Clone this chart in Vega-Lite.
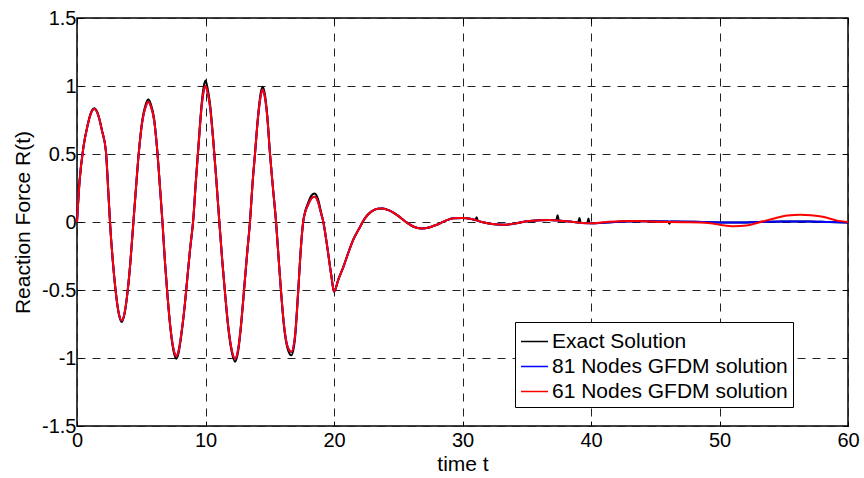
{
  "$schema": "https://vega.github.io/schema/vega-lite/v6.json",
  "width": 771,
  "height": 408,
  "autosize": {"type": "none"},
  "padding": {"left": 77, "top": 18, "right": 16, "bottom": 52},
  "background": "white",
  "config": {
    "view": {"stroke": "black", "strokeWidth": 1.5},
    "axis": {
      "labelFont": "Liberation Sans", "titleFont": "Liberation Sans",
      "labelFontSize": 20, "titleFontSize": 21, "labelColor": "black", "titleColor": "black",
      "titleFontWeight": "normal", "domain": false, "tickColor": "black", "tickSize": -5, "tickWidth": 1,
      "grid": true, "gridColor": "#222222", "gridDash": [8, 7], "gridWidth": 1, "gridOpacity": 1
    },
    "legend": {
      "orient": "none", "legendX": 438, "legendY": 304, "strokeColor": "black", "padding": 5,
      "fillColor": "white", "symbolType": "stroke", "symbolSize": 729, "symbolStrokeWidth": 1.5,
      "labelFont": "Liberation Sans", "labelFontSize": 21, "labelColor": "black", "labelOffset": 3,
      "rowPadding": 0, "title": null, "labelLimit": 400
    }
  },
  "data": {"values": [
    {"s":"Exact Solution","t":0,"r":0},{"s":"Exact Solution","t":0.2,"r":0.3},{"s":"Exact Solution","t":0.5,"r":0.55},{"s":"Exact Solution","t":0.8,"r":0.7},{"s":"Exact Solution","t":1.05,"r":0.795},{"s":"Exact Solution","t":1.35,"r":0.836},{"s":"Exact Solution","t":1.65,"r":0.79},{"s":"Exact Solution","t":1.95,"r":0.67},{"s":"Exact Solution","t":2.25,"r":0.52},{"s":"Exact Solution","t":2.45,"r":0.2},{"s":"Exact Solution","t":2.6,"r":-0.05},{"s":"Exact Solution","t":2.8,"r":-0.3},{"s":"Exact Solution","t":3.0,"r":-0.5},{"s":"Exact Solution","t":3.25,"r":-0.675},{"s":"Exact Solution","t":3.48,"r":-0.735},{"s":"Exact Solution","t":3.7,"r":-0.675},{"s":"Exact Solution","t":3.95,"r":-0.5},{"s":"Exact Solution","t":4.15,"r":-0.3},{"s":"Exact Solution","t":4.35,"r":-0.05},{"s":"Exact Solution","t":4.55,"r":0.2},{"s":"Exact Solution","t":4.8,"r":0.5},{"s":"Exact Solution","t":5.1,"r":0.76},{"s":"Exact Solution","t":5.35,"r":0.865},{"s":"Exact Solution","t":5.55,"r":0.9},{"s":"Exact Solution","t":5.75,"r":0.865},{"s":"Exact Solution","t":6.0,"r":0.76},{"s":"Exact Solution","t":6.25,"r":0.52},{"s":"Exact Solution","t":6.5,"r":0.2},{"s":"Exact Solution","t":6.65,"r":0.0},{"s":"Exact Solution","t":6.85,"r":-0.3},{"s":"Exact Solution","t":7.05,"r":-0.55},{"s":"Exact Solution","t":7.3,"r":-0.81},{"s":"Exact Solution","t":7.55,"r":-0.965},{"s":"Exact Solution","t":7.72,"r":-1.005},{"s":"Exact Solution","t":7.9,"r":-0.965},{"s":"Exact Solution","t":8.15,"r":-0.81},{"s":"Exact Solution","t":8.4,"r":-0.6},{"s":"Exact Solution","t":8.55,"r":-0.45},{"s":"Exact Solution","t":8.8,"r":-0.2},{"s":"Exact Solution","t":9.05,"r":0.02},{"s":"Exact Solution","t":9.25,"r":0.3},{"s":"Exact Solution","t":9.45,"r":0.56},{"s":"Exact Solution","t":9.7,"r":0.87},{"s":"Exact Solution","t":9.85,"r":0.99},{"s":"Exact Solution","t":10.0,"r":1.04},{"s":"Exact Solution","t":10.15,"r":0.99},{"s":"Exact Solution","t":10.35,"r":0.87},{"s":"Exact Solution","t":10.6,"r":0.61},{"s":"Exact Solution","t":10.85,"r":0.3},{"s":"Exact Solution","t":11.07,"r":0.01},{"s":"Exact Solution","t":11.3,"r":-0.28},{"s":"Exact Solution","t":11.5,"r":-0.5},{"s":"Exact Solution","t":11.75,"r":-0.76},{"s":"Exact Solution","t":12.0,"r":-0.935},{"s":"Exact Solution","t":12.3,"r":-1.027},{"s":"Exact Solution","t":12.55,"r":-0.945},{"s":"Exact Solution","t":12.8,"r":-0.73},{"s":"Exact Solution","t":13.0,"r":-0.5},{"s":"Exact Solution","t":13.25,"r":-0.22},{"s":"Exact Solution","t":13.46,"r":0.0},{"s":"Exact Solution","t":13.65,"r":0.27},{"s":"Exact Solution","t":13.85,"r":0.5},{"s":"Exact Solution","t":14.1,"r":0.79},{"s":"Exact Solution","t":14.3,"r":0.95},{"s":"Exact Solution","t":14.45,"r":0.995},{"s":"Exact Solution","t":14.6,"r":0.95},{"s":"Exact Solution","t":14.8,"r":0.79},{"s":"Exact Solution","t":15.02,"r":0.5},{"s":"Exact Solution","t":15.25,"r":0.25},{"s":"Exact Solution","t":15.49,"r":0.0},{"s":"Exact Solution","t":15.7,"r":-0.28},{"s":"Exact Solution","t":15.87,"r":-0.5},{"s":"Exact Solution","t":16.1,"r":-0.76},{"s":"Exact Solution","t":16.4,"r":-0.935},{"s":"Exact Solution","t":16.68,"r":-0.98},{"s":"Exact Solution","t":16.95,"r":-0.87},{"s":"Exact Solution","t":17.22,"r":-0.5},{"s":"Exact Solution","t":17.4,"r":-0.22},{"s":"Exact Solution","t":17.6,"r":0.0},{"s":"Exact Solution","t":17.75,"r":0.075},{"s":"Exact Solution","t":18.0,"r":0.145},{"s":"Exact Solution","t":18.25,"r":0.195},{"s":"Exact Solution","t":18.5,"r":0.21},{"s":"Exact Solution","t":18.75,"r":0.17},{"s":"Exact Solution","t":19.0,"r":0.07},{"s":"Exact Solution","t":19.17,"r":0.0},{"s":"Exact Solution","t":19.5,"r":-0.2},{"s":"Exact Solution","t":19.8,"r":-0.4},{"s":"Exact Solution","t":20.0,"r":-0.515},{"s":"Exact Solution","t":20.35,"r":-0.42},{"s":"Exact Solution","t":20.73,"r":-0.33},{"s":"Exact Solution","t":21.1,"r":-0.23},{"s":"Exact Solution","t":21.5,"r":-0.13},{"s":"Exact Solution","t":22.0,"r":-0.04},{"s":"Exact Solution","t":22.4,"r":0.027},{"s":"Exact Solution","t":22.9,"r":0.076},{"s":"Exact Solution","t":23.4,"r":0.098},{"s":"Exact Solution","t":23.8,"r":0.1},{"s":"Exact Solution","t":24.3,"r":0.085},{"s":"Exact Solution","t":25.0,"r":0.045},{"s":"Exact Solution","t":25.6,"r":0.0},{"s":"Exact Solution","t":26.2,"r":-0.035},{"s":"Exact Solution","t":26.8,"r":-0.047},{"s":"Exact Solution","t":27.4,"r":-0.04},{"s":"Exact Solution","t":28.0,"r":-0.02},{"s":"Exact Solution","t":28.7,"r":0.01},{"s":"Exact Solution","t":29.3,"r":0.027},{"s":"Exact Solution","t":30.0,"r":0.03},{"s":"Exact Solution","t":30.7,"r":0.022},{"s":"Exact Solution","t":31.0,"r":0.012},{"s":"Exact Solution","t":31.1,"r":0.035},{"s":"Exact Solution","t":31.2,"r":0.008},{"s":"Exact Solution","t":31.5,"r":0.0},{"s":"Exact Solution","t":32.3,"r":-0.015},{"s":"Exact Solution","t":33.2,"r":-0.02},{"s":"Exact Solution","t":34.0,"r":-0.012},{"s":"Exact Solution","t":35.0,"r":0.005},{"s":"Exact Solution","t":36.0,"r":0.013},{"s":"Exact Solution","t":36.8,"r":0.015},{"s":"Exact Solution","t":37.3,"r":0.012},{"s":"Exact Solution","t":37.4,"r":0.05},{"s":"Exact Solution","t":37.5,"r":0.011},{"s":"Exact Solution","t":38.5,"r":0.002},{"s":"Exact Solution","t":39.0,"r":-0.004},{"s":"Exact Solution","t":39.1,"r":0.03},{"s":"Exact Solution","t":39.2,"r":-0.005},{"s":"Exact Solution","t":39.7,"r":-0.008},{"s":"Exact Solution","t":39.8,"r":0.025},{"s":"Exact Solution","t":39.9,"r":-0.009},{"s":"Exact Solution","t":40.0,"r":-0.01},{"s":"Exact Solution","t":41.0,"r":-0.005},{"s":"Exact Solution","t":42.5,"r":0.003},{"s":"Exact Solution","t":44.0,"r":0.006},{"s":"Exact Solution","t":46.0,"r":0.004},{"s":"Exact Solution","t":46.1,"r":-0.012},{"s":"Exact Solution","t":46.2,"r":0.004},{"s":"Exact Solution","t":48.0,"r":0.001},{"s":"Exact Solution","t":50.0,"r":-0.003},{"s":"Exact Solution","t":51.5,"r":-0.004},{"s":"Exact Solution","t":53.0,"r":0.0},{"s":"Exact Solution","t":55.0,"r":0.004},{"s":"Exact Solution","t":57.0,"r":0.004},{"s":"Exact Solution","t":58.5,"r":0.0},{"s":"Exact Solution","t":60.0,"r":-0.003},

    {"s":"81 Nodes GFDM solution","t":0,"r":0},{"s":"81 Nodes GFDM solution","t":0.2,"r":0.3},{"s":"81 Nodes GFDM solution","t":0.5,"r":0.55},{"s":"81 Nodes GFDM solution","t":0.8,"r":0.7},{"s":"81 Nodes GFDM solution","t":1.05,"r":0.79},{"s":"81 Nodes GFDM solution","t":1.35,"r":0.83},{"s":"81 Nodes GFDM solution","t":1.65,"r":0.785},{"s":"81 Nodes GFDM solution","t":1.95,"r":0.67},{"s":"81 Nodes GFDM solution","t":2.25,"r":0.52},{"s":"81 Nodes GFDM solution","t":2.45,"r":0.2},{"s":"81 Nodes GFDM solution","t":2.6,"r":-0.05},{"s":"81 Nodes GFDM solution","t":2.8,"r":-0.3},{"s":"81 Nodes GFDM solution","t":3.0,"r":-0.5},{"s":"81 Nodes GFDM solution","t":3.25,"r":-0.67},{"s":"81 Nodes GFDM solution","t":3.48,"r":-0.725},{"s":"81 Nodes GFDM solution","t":3.7,"r":-0.67},{"s":"81 Nodes GFDM solution","t":3.95,"r":-0.5},{"s":"81 Nodes GFDM solution","t":4.15,"r":-0.3},{"s":"81 Nodes GFDM solution","t":4.35,"r":-0.05},{"s":"81 Nodes GFDM solution","t":4.55,"r":0.2},{"s":"81 Nodes GFDM solution","t":4.8,"r":0.5},{"s":"81 Nodes GFDM solution","t":5.1,"r":0.75},{"s":"81 Nodes GFDM solution","t":5.35,"r":0.85},{"s":"81 Nodes GFDM solution","t":5.55,"r":0.885},{"s":"81 Nodes GFDM solution","t":5.75,"r":0.85},{"s":"81 Nodes GFDM solution","t":6.0,"r":0.75},{"s":"81 Nodes GFDM solution","t":6.25,"r":0.52},{"s":"81 Nodes GFDM solution","t":6.5,"r":0.2},{"s":"81 Nodes GFDM solution","t":6.65,"r":0.0},{"s":"81 Nodes GFDM solution","t":6.85,"r":-0.3},{"s":"81 Nodes GFDM solution","t":7.05,"r":-0.55},{"s":"81 Nodes GFDM solution","t":7.3,"r":-0.8},{"s":"81 Nodes GFDM solution","t":7.55,"r":-0.95},{"s":"81 Nodes GFDM solution","t":7.72,"r":-0.985},{"s":"81 Nodes GFDM solution","t":7.9,"r":-0.95},{"s":"81 Nodes GFDM solution","t":8.15,"r":-0.8},{"s":"81 Nodes GFDM solution","t":8.4,"r":-0.6},{"s":"81 Nodes GFDM solution","t":8.55,"r":-0.45},{"s":"81 Nodes GFDM solution","t":8.8,"r":-0.2},{"s":"81 Nodes GFDM solution","t":9.05,"r":0.02},{"s":"81 Nodes GFDM solution","t":9.25,"r":0.3},{"s":"81 Nodes GFDM solution","t":9.45,"r":0.55},{"s":"81 Nodes GFDM solution","t":9.7,"r":0.85},{"s":"81 Nodes GFDM solution","t":9.85,"r":0.96},{"s":"81 Nodes GFDM solution","t":10.0,"r":1.0},{"s":"81 Nodes GFDM solution","t":10.15,"r":0.96},{"s":"81 Nodes GFDM solution","t":10.35,"r":0.85},{"s":"81 Nodes GFDM solution","t":10.6,"r":0.6},{"s":"81 Nodes GFDM solution","t":10.85,"r":0.3},{"s":"81 Nodes GFDM solution","t":11.07,"r":0.01},{"s":"81 Nodes GFDM solution","t":11.3,"r":-0.28},{"s":"81 Nodes GFDM solution","t":11.5,"r":-0.5},{"s":"81 Nodes GFDM solution","t":11.75,"r":-0.75},{"s":"81 Nodes GFDM solution","t":12.0,"r":-0.92},{"s":"81 Nodes GFDM solution","t":12.3,"r":-1.005},{"s":"81 Nodes GFDM solution","t":12.55,"r":-0.93},{"s":"81 Nodes GFDM solution","t":12.8,"r":-0.72},{"s":"81 Nodes GFDM solution","t":13.0,"r":-0.5},{"s":"81 Nodes GFDM solution","t":13.25,"r":-0.22},{"s":"81 Nodes GFDM solution","t":13.46,"r":0.0},{"s":"81 Nodes GFDM solution","t":13.65,"r":0.27},{"s":"81 Nodes GFDM solution","t":13.85,"r":0.5},{"s":"81 Nodes GFDM solution","t":14.1,"r":0.78},{"s":"81 Nodes GFDM solution","t":14.3,"r":0.93},{"s":"81 Nodes GFDM solution","t":14.45,"r":0.975},{"s":"81 Nodes GFDM solution","t":14.6,"r":0.93},{"s":"81 Nodes GFDM solution","t":14.8,"r":0.78},{"s":"81 Nodes GFDM solution","t":15.02,"r":0.5},{"s":"81 Nodes GFDM solution","t":15.25,"r":0.25},{"s":"81 Nodes GFDM solution","t":15.49,"r":0.0},{"s":"81 Nodes GFDM solution","t":15.7,"r":-0.28},{"s":"81 Nodes GFDM solution","t":15.87,"r":-0.5},{"s":"81 Nodes GFDM solution","t":16.1,"r":-0.75},{"s":"81 Nodes GFDM solution","t":16.4,"r":-0.92},{"s":"81 Nodes GFDM solution","t":16.68,"r":-0.955},{"s":"81 Nodes GFDM solution","t":16.95,"r":-0.85},{"s":"81 Nodes GFDM solution","t":17.22,"r":-0.5},{"s":"81 Nodes GFDM solution","t":17.4,"r":-0.22},{"s":"81 Nodes GFDM solution","t":17.6,"r":0.0},{"s":"81 Nodes GFDM solution","t":17.75,"r":0.07},{"s":"81 Nodes GFDM solution","t":18.0,"r":0.13},{"s":"81 Nodes GFDM solution","t":18.25,"r":0.175},{"s":"81 Nodes GFDM solution","t":18.5,"r":0.185},{"s":"81 Nodes GFDM solution","t":18.75,"r":0.15},{"s":"81 Nodes GFDM solution","t":19.0,"r":0.06},{"s":"81 Nodes GFDM solution","t":19.17,"r":0.0},{"s":"81 Nodes GFDM solution","t":19.5,"r":-0.2},{"s":"81 Nodes GFDM solution","t":19.8,"r":-0.4},{"s":"81 Nodes GFDM solution","t":20.0,"r":-0.51},{"s":"81 Nodes GFDM solution","t":20.35,"r":-0.42},{"s":"81 Nodes GFDM solution","t":20.73,"r":-0.33},{"s":"81 Nodes GFDM solution","t":21.1,"r":-0.23},{"s":"81 Nodes GFDM solution","t":21.5,"r":-0.13},{"s":"81 Nodes GFDM solution","t":22.0,"r":-0.04},{"s":"81 Nodes GFDM solution","t":22.4,"r":0.027},{"s":"81 Nodes GFDM solution","t":22.9,"r":0.076},{"s":"81 Nodes GFDM solution","t":23.4,"r":0.098},{"s":"81 Nodes GFDM solution","t":23.8,"r":0.1},{"s":"81 Nodes GFDM solution","t":24.3,"r":0.085},{"s":"81 Nodes GFDM solution","t":25.0,"r":0.045},{"s":"81 Nodes GFDM solution","t":25.6,"r":0.0},{"s":"81 Nodes GFDM solution","t":26.2,"r":-0.035},{"s":"81 Nodes GFDM solution","t":26.8,"r":-0.047},{"s":"81 Nodes GFDM solution","t":27.4,"r":-0.04},{"s":"81 Nodes GFDM solution","t":28.0,"r":-0.02},{"s":"81 Nodes GFDM solution","t":28.7,"r":0.01},{"s":"81 Nodes GFDM solution","t":29.3,"r":0.027},{"s":"81 Nodes GFDM solution","t":30.0,"r":0.03},{"s":"81 Nodes GFDM solution","t":30.7,"r":0.022},{"s":"81 Nodes GFDM solution","t":31.5,"r":0.0},{"s":"81 Nodes GFDM solution","t":32.3,"r":-0.015},{"s":"81 Nodes GFDM solution","t":33.2,"r":-0.02},{"s":"81 Nodes GFDM solution","t":34.0,"r":-0.012},{"s":"81 Nodes GFDM solution","t":35.0,"r":0.005},{"s":"81 Nodes GFDM solution","t":36.0,"r":0.013},{"s":"81 Nodes GFDM solution","t":36.8,"r":0.015},{"s":"81 Nodes GFDM solution","t":37.6,"r":0.01},{"s":"81 Nodes GFDM solution","t":38.5,"r":0.002},{"s":"81 Nodes GFDM solution","t":39.3,"r":-0.008},{"s":"81 Nodes GFDM solution","t":40.0,"r":-0.01},{"s":"81 Nodes GFDM solution","t":41.0,"r":-0.005},{"s":"81 Nodes GFDM solution","t":42.5,"r":0.003},{"s":"81 Nodes GFDM solution","t":44.0,"r":0.006},{"s":"81 Nodes GFDM solution","t":46.0,"r":0.004},{"s":"81 Nodes GFDM solution","t":48.0,"r":0.001},{"s":"81 Nodes GFDM solution","t":50.0,"r":-0.003},{"s":"81 Nodes GFDM solution","t":51.5,"r":-0.004},{"s":"81 Nodes GFDM solution","t":53.0,"r":0.0},{"s":"81 Nodes GFDM solution","t":55.0,"r":0.004},{"s":"81 Nodes GFDM solution","t":57.0,"r":0.004},{"s":"81 Nodes GFDM solution","t":58.5,"r":0.0},{"s":"81 Nodes GFDM solution","t":60.0,"r":-0.003},

    {"s":"61 Nodes GFDM solution","t":0,"r":0},{"s":"61 Nodes GFDM solution","t":0.2,"r":0.3},{"s":"61 Nodes GFDM solution","t":0.5,"r":0.55},{"s":"61 Nodes GFDM solution","t":0.8,"r":0.7},{"s":"61 Nodes GFDM solution","t":1.05,"r":0.79},{"s":"61 Nodes GFDM solution","t":1.35,"r":0.83},{"s":"61 Nodes GFDM solution","t":1.65,"r":0.785},{"s":"61 Nodes GFDM solution","t":1.95,"r":0.67},{"s":"61 Nodes GFDM solution","t":2.25,"r":0.52},{"s":"61 Nodes GFDM solution","t":2.45,"r":0.2},{"s":"61 Nodes GFDM solution","t":2.6,"r":-0.05},{"s":"61 Nodes GFDM solution","t":2.8,"r":-0.3},{"s":"61 Nodes GFDM solution","t":3.0,"r":-0.5},{"s":"61 Nodes GFDM solution","t":3.25,"r":-0.67},{"s":"61 Nodes GFDM solution","t":3.48,"r":-0.725},{"s":"61 Nodes GFDM solution","t":3.7,"r":-0.67},{"s":"61 Nodes GFDM solution","t":3.95,"r":-0.5},{"s":"61 Nodes GFDM solution","t":4.15,"r":-0.3},{"s":"61 Nodes GFDM solution","t":4.35,"r":-0.05},{"s":"61 Nodes GFDM solution","t":4.55,"r":0.2},{"s":"61 Nodes GFDM solution","t":4.8,"r":0.5},{"s":"61 Nodes GFDM solution","t":5.1,"r":0.75},{"s":"61 Nodes GFDM solution","t":5.35,"r":0.85},{"s":"61 Nodes GFDM solution","t":5.55,"r":0.885},{"s":"61 Nodes GFDM solution","t":5.75,"r":0.85},{"s":"61 Nodes GFDM solution","t":6.0,"r":0.75},{"s":"61 Nodes GFDM solution","t":6.25,"r":0.52},{"s":"61 Nodes GFDM solution","t":6.5,"r":0.2},{"s":"61 Nodes GFDM solution","t":6.65,"r":0.0},{"s":"61 Nodes GFDM solution","t":6.85,"r":-0.3},{"s":"61 Nodes GFDM solution","t":7.05,"r":-0.55},{"s":"61 Nodes GFDM solution","t":7.3,"r":-0.8},{"s":"61 Nodes GFDM solution","t":7.55,"r":-0.95},{"s":"61 Nodes GFDM solution","t":7.72,"r":-0.985},{"s":"61 Nodes GFDM solution","t":7.9,"r":-0.95},{"s":"61 Nodes GFDM solution","t":8.15,"r":-0.8},{"s":"61 Nodes GFDM solution","t":8.4,"r":-0.6},{"s":"61 Nodes GFDM solution","t":8.55,"r":-0.45},{"s":"61 Nodes GFDM solution","t":8.8,"r":-0.2},{"s":"61 Nodes GFDM solution","t":9.05,"r":0.02},{"s":"61 Nodes GFDM solution","t":9.25,"r":0.3},{"s":"61 Nodes GFDM solution","t":9.45,"r":0.55},{"s":"61 Nodes GFDM solution","t":9.7,"r":0.85},{"s":"61 Nodes GFDM solution","t":9.85,"r":0.96},{"s":"61 Nodes GFDM solution","t":10.0,"r":1.0},{"s":"61 Nodes GFDM solution","t":10.15,"r":0.96},{"s":"61 Nodes GFDM solution","t":10.35,"r":0.85},{"s":"61 Nodes GFDM solution","t":10.6,"r":0.6},{"s":"61 Nodes GFDM solution","t":10.85,"r":0.3},{"s":"61 Nodes GFDM solution","t":11.07,"r":0.01},{"s":"61 Nodes GFDM solution","t":11.3,"r":-0.28},{"s":"61 Nodes GFDM solution","t":11.5,"r":-0.5},{"s":"61 Nodes GFDM solution","t":11.75,"r":-0.75},{"s":"61 Nodes GFDM solution","t":12.0,"r":-0.92},{"s":"61 Nodes GFDM solution","t":12.3,"r":-1.005},{"s":"61 Nodes GFDM solution","t":12.55,"r":-0.93},{"s":"61 Nodes GFDM solution","t":12.8,"r":-0.72},{"s":"61 Nodes GFDM solution","t":13.0,"r":-0.5},{"s":"61 Nodes GFDM solution","t":13.25,"r":-0.22},{"s":"61 Nodes GFDM solution","t":13.46,"r":0.0},{"s":"61 Nodes GFDM solution","t":13.65,"r":0.27},{"s":"61 Nodes GFDM solution","t":13.85,"r":0.5},{"s":"61 Nodes GFDM solution","t":14.1,"r":0.78},{"s":"61 Nodes GFDM solution","t":14.3,"r":0.93},{"s":"61 Nodes GFDM solution","t":14.45,"r":0.975},{"s":"61 Nodes GFDM solution","t":14.6,"r":0.93},{"s":"61 Nodes GFDM solution","t":14.8,"r":0.78},{"s":"61 Nodes GFDM solution","t":15.02,"r":0.5},{"s":"61 Nodes GFDM solution","t":15.25,"r":0.25},{"s":"61 Nodes GFDM solution","t":15.49,"r":0.0},{"s":"61 Nodes GFDM solution","t":15.7,"r":-0.28},{"s":"61 Nodes GFDM solution","t":15.87,"r":-0.5},{"s":"61 Nodes GFDM solution","t":16.1,"r":-0.75},{"s":"61 Nodes GFDM solution","t":16.4,"r":-0.92},{"s":"61 Nodes GFDM solution","t":16.68,"r":-0.955},{"s":"61 Nodes GFDM solution","t":16.95,"r":-0.85},{"s":"61 Nodes GFDM solution","t":17.22,"r":-0.5},{"s":"61 Nodes GFDM solution","t":17.4,"r":-0.22},{"s":"61 Nodes GFDM solution","t":17.6,"r":0.0},{"s":"61 Nodes GFDM solution","t":17.75,"r":0.07},{"s":"61 Nodes GFDM solution","t":18.0,"r":0.13},{"s":"61 Nodes GFDM solution","t":18.25,"r":0.175},{"s":"61 Nodes GFDM solution","t":18.5,"r":0.185},{"s":"61 Nodes GFDM solution","t":18.75,"r":0.15},{"s":"61 Nodes GFDM solution","t":19.0,"r":0.06},{"s":"61 Nodes GFDM solution","t":19.17,"r":0.0},{"s":"61 Nodes GFDM solution","t":19.5,"r":-0.2},{"s":"61 Nodes GFDM solution","t":19.8,"r":-0.4},{"s":"61 Nodes GFDM solution","t":20.0,"r":-0.51},{"s":"61 Nodes GFDM solution","t":20.35,"r":-0.42},{"s":"61 Nodes GFDM solution","t":20.73,"r":-0.33},{"s":"61 Nodes GFDM solution","t":21.1,"r":-0.23},{"s":"61 Nodes GFDM solution","t":21.5,"r":-0.13},{"s":"61 Nodes GFDM solution","t":22.0,"r":-0.04},{"s":"61 Nodes GFDM solution","t":22.4,"r":0.027},{"s":"61 Nodes GFDM solution","t":22.9,"r":0.076},{"s":"61 Nodes GFDM solution","t":23.4,"r":0.098},{"s":"61 Nodes GFDM solution","t":23.8,"r":0.1},{"s":"61 Nodes GFDM solution","t":24.3,"r":0.085},{"s":"61 Nodes GFDM solution","t":25.0,"r":0.045},{"s":"61 Nodes GFDM solution","t":25.6,"r":0.0},{"s":"61 Nodes GFDM solution","t":26.2,"r":-0.035},{"s":"61 Nodes GFDM solution","t":26.8,"r":-0.047},{"s":"61 Nodes GFDM solution","t":27.4,"r":-0.04},{"s":"61 Nodes GFDM solution","t":28.0,"r":-0.02},{"s":"61 Nodes GFDM solution","t":28.7,"r":0.01},{"s":"61 Nodes GFDM solution","t":29.3,"r":0.027},{"s":"61 Nodes GFDM solution","t":30.0,"r":0.03},{"s":"61 Nodes GFDM solution","t":30.7,"r":0.022},{"s":"61 Nodes GFDM solution","t":31.5,"r":0.0},{"s":"61 Nodes GFDM solution","t":32.3,"r":-0.015},{"s":"61 Nodes GFDM solution","t":33.2,"r":-0.02},{"s":"61 Nodes GFDM solution","t":34.0,"r":-0.012},{"s":"61 Nodes GFDM solution","t":35.0,"r":0.005},{"s":"61 Nodes GFDM solution","t":36.0,"r":0.013},{"s":"61 Nodes GFDM solution","t":36.8,"r":0.015},{"s":"61 Nodes GFDM solution","t":37.6,"r":0.01},{"s":"61 Nodes GFDM solution","t":38.5,"r":0.002},{"s":"61 Nodes GFDM solution","t":39.3,"r":-0.008},{"s":"61 Nodes GFDM solution","t":40.0,"r":-0.01},{"s":"61 Nodes GFDM solution","t":41.0,"r":-0.002},{"s":"61 Nodes GFDM solution","t":42.2,"r":0.005},{"s":"61 Nodes GFDM solution","t":43.3,"r":0.007},{"s":"61 Nodes GFDM solution","t":44.5,"r":0.004},{"s":"61 Nodes GFDM solution","t":45.9,"r":0.0},{"s":"61 Nodes GFDM solution","t":47.2,"r":-0.002},{"s":"61 Nodes GFDM solution","t":48.5,"r":-0.004},{"s":"61 Nodes GFDM solution","t":49.3,"r":-0.01},{"s":"61 Nodes GFDM solution","t":50.0,"r":-0.02},{"s":"61 Nodes GFDM solution","t":51.1,"r":-0.032},{"s":"61 Nodes GFDM solution","t":52.1,"r":-0.026},{"s":"61 Nodes GFDM solution","t":53.2,"r":0.0},{"s":"61 Nodes GFDM solution","t":54.4,"r":0.03},{"s":"61 Nodes GFDM solution","t":55.3,"r":0.047},{"s":"61 Nodes GFDM solution","t":56.3,"r":0.054},{"s":"61 Nodes GFDM solution","t":57.1,"r":0.05},{"s":"61 Nodes GFDM solution","t":57.8,"r":0.042},{"s":"61 Nodes GFDM solution","t":58.5,"r":0.028},{"s":"61 Nodes GFDM solution","t":59.1,"r":0.012},{"s":"61 Nodes GFDM solution","t":60.0,"r":0.0}
  ]},
  "resolve": {"axis": {"x": "independent", "y": "independent"}},
  "layer": [
    {
      "transform": [{"filter": "datum.s === 'Exact Solution'"}],
      "mark": {"type": "line", "interpolate": "monotone", "strokeWidth": 2},
      "encoding": {
        "x": {"field": "t", "type": "quantitative", "scale": {"domain": [0, 60], "nice": false},
              "axis": {"title": "time t", "values": [0, 10, 20, 30, 40, 50, 60], "labelExpr": "'' + datum.value", "labelPadding": 9, "titlePadding": 3, "labelFlush": false}},
        "y": {"field": "r", "type": "quantitative", "scale": {"domain": [-1.5, 1.5], "nice": false},
              "axis": {"title": "Reaction Force R(t)", "values": [-1.5, -1, -0.5, 0, 0.5, 1, 1.5], "labelExpr": "'' + datum.value", "labelPadding": 6, "titlePadding": 8, "labelFlush": false}},
        "color": {"field": "s", "type": "nominal",
                  "scale": {"domain": ["Exact Solution", "81 Nodes GFDM solution", "61 Nodes GFDM solution"], "range": ["#000000", "#0000ff", "#ff0000"]}}
      }
    },
    {
      "transform": [{"filter": "datum.s === '81 Nodes GFDM solution'"}],
      "mark": {"type": "line", "interpolate": "monotone", "strokeWidth": 2},
      "encoding": {
        "x": {"field": "t", "type": "quantitative", "axis": null},
        "y": {"field": "r", "type": "quantitative", "axis": null},
        "color": {"field": "s", "type": "nominal"}
      }
    },
    {
      "transform": [{"filter": "datum.s === '61 Nodes GFDM solution'"}],
      "mark": {"type": "line", "interpolate": "monotone", "strokeWidth": 2},
      "encoding": {
        "x": {"field": "t", "type": "quantitative", "axis": null},
        "y": {"field": "r", "type": "quantitative", "axis": null},
        "color": {"field": "s", "type": "nominal"}
      }
    },
    {
      "transform": [{"filter": "datum.s === 'Exact Solution'"}],
      "mark": {"type": "point", "opacity": 0},
      "encoding": {
        "x": {"field": "t", "type": "quantitative", "axis": {"orient": "top", "labels": false, "grid": false, "title": null, "values": [0, 10, 20, 30, 40, 50, 60]}},
        "y": {"field": "r", "type": "quantitative", "axis": {"orient": "right", "labels": false, "grid": false, "title": null, "values": [-1.5, -1, -0.5, 0, 0.5, 1, 1.5]}}
      }
    }
  ]
}
